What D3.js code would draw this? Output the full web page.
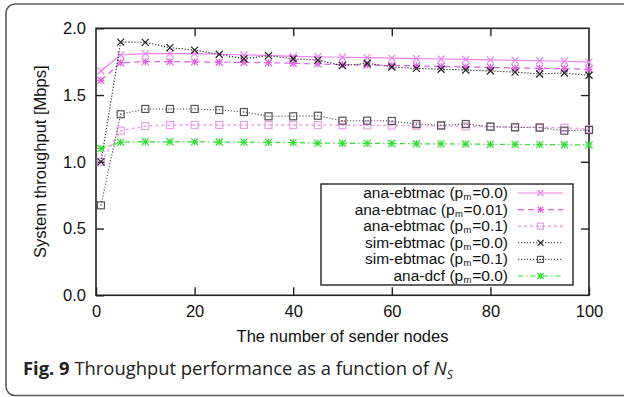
<!DOCTYPE html>
<html><head><meta charset="utf-8">
<script src="https://cdn.jsdelivr.net/npm/d3@7"></script>
<style>body{margin:0;background:#fff}svg{display:block}</style>
</head><body><svg id="c" width="624" height="397"></svg>
<script>
const xs = [1,5,10,15,20,25,30,35,40,45,50,55,60,65,70,75,80,85,90,95,100];
const anaEbt00 = [1.68,1.80,1.81,1.81,1.81,1.807,1.80,1.797,1.79,1.787,1.783,1.78,1.777,1.773,1.77,1.767,1.763,1.76,1.757,1.753,1.747];
const anaEbt001 = [1.61,1.742,1.75,1.75,1.748,1.746,1.745,1.742,1.738,1.733,1.728,1.725,1.722,1.718,1.714,1.711,1.707,1.703,1.700,1.697,1.693];
const anaEbt01 = [1.0,1.233,1.268,1.275,1.276,1.276,1.276,1.276,1.276,1.275,1.274,1.273,1.272,1.27,1.268,1.266,1.264,1.261,1.258,1.255,1.245];
const simEbt00 = [1.0,1.897,1.895,1.855,1.837,1.805,1.772,1.795,1.772,1.762,1.72,1.738,1.71,1.70,1.693,1.688,1.68,1.672,1.658,1.665,1.648];
const simEbt01 = [0.674,1.356,1.396,1.396,1.396,1.388,1.373,1.341,1.341,1.345,1.308,1.308,1.306,1.283,1.273,1.283,1.263,1.258,1.256,1.233,1.238];
const anaDcf = [1.10,1.146,1.15,1.15,1.149,1.148,1.147,1.146,1.144,1.14,1.139,1.138,1.137,1.135,1.134,1.133,1.131,1.130,1.129,1.128,1.126];
const seriesNames = ["ana-ebtmac","ana-ebtmac","ana-ebtmac","sim-ebtmac","sim-ebtmac","ana-dcf"];
const seriesPm = ["0.0","0.01","0.1","0.0","0.1","0.0"];
const xTicks = [0,20,40,60,80,100];
const yTicks = [0,0.5,1.0,1.5,2.0];

const series = [
  {vals:anaEbt00, color:"#ee82ee", dash:null, mark:"x", w:1.2},
  {vals:anaEbt001, color:"#e060e0", dash:"6,4", mark:"star", w:1.2},
  {vals:anaEbt01, color:"#e8a0e8", dash:"3,3", mark:"sq", w:1.4},
  {vals:simEbt00, color:"#222", dash:"1.2,1.8", mark:"x", w:1.1},
  {vals:simEbt01, color:"#555", dash:"1.2,1.8", mark:"sq", w:1.1},
  {vals:anaDcf, color:"#33dd33", dash:"5,3,1.5,3", mark:"star", w:1.2}
];

const svg = d3.select("#c");
const L=96, R=589, T=28.3, B=295.3;
const x = d3.scaleLinear().domain([0,100]).range([L,R]);
const y = d3.scaleLinear().domain([0,2]).range([B,T]);

// outer frame
svg.append("rect").attr("x",6).attr("y",4).attr("width",650).attr("height",391.5)
  .attr("rx",9).attr("fill","none").attr("stroke","#5a5a5a").attr("stroke-width",1.6);

const font = "'Liberation Sans', Arial, sans-serif";

// axes with inward ticks
const ax = svg.append("g").attr("font-family",font);
ax.append("g").attr("transform",`translate(0,${B})`)
  .call(d3.axisBottom(x).tickValues(xTicks).tickSize(-8).tickPadding(10).tickFormat(d3.format("d")))
  .call(g=>{g.select(".domain").remove(); g.selectAll("text").attr("font-size",16.5).attr("fill","#111");});
ax.append("g").attr("transform",`translate(0,${T})`)
  .call(d3.axisTop(x).tickValues(xTicks.slice(1,-1)).tickSize(-8).tickFormat(""))
  .call(g=>g.select(".domain").remove());
ax.append("g").attr("transform",`translate(${L},0)`)
  .call(d3.axisLeft(y).tickValues(yTicks).tickSize(-8).tickPadding(10).tickFormat(d3.format(".1f")))
  .call(g=>{g.select(".domain").remove(); g.selectAll("text").attr("font-size",16.5).attr("fill","#111");});
ax.append("g").attr("transform",`translate(${R},0)`)
  .call(d3.axisRight(y).tickValues(yTicks.slice(1,-1)).tickSize(-8).tickFormat(""))
  .call(g=>g.select(".domain").remove());
ax.selectAll(".tick line").attr("stroke","#222").attr("stroke-width",1.4);
svg.append("rect").attr("x",L).attr("y",T).attr("width",R-L).attr("height",B-T)
  .attr("fill","none").attr("stroke","#222").attr("stroke-width",1.6);

// labels
svg.append("text").attr("x",(L+R)/2).attr("y",342).attr("text-anchor","middle")
  .attr("font-family",font).attr("font-size",16.5).attr("fill","#111").text("The number of sender nodes");
svg.append("text").attr("transform",`translate(46,${(T+B)/2}) rotate(-90)`).attr("text-anchor","middle")
  .attr("font-family",font).attr("font-size",16.5).attr("fill","#111").text("System throughput [Mbps]");

function marker(g, kind, cx, cy, color, s){
  s = s || 3.5;
  if(kind==="x"||kind==="star"){
    g.append("path").attr("d",`M${cx-s},${cy-s}L${cx+s},${cy+s}M${cx-s},${cy+s}L${cx+s},${cy-s}`)
      .attr("stroke",color).attr("stroke-width",1.2).attr("fill","none");
    if(kind==="star") g.append("path").attr("d",`M${cx-s},${cy}L${cx+s},${cy}M${cx},${cy-s}L${cx},${cy+s}`)
      .attr("stroke",color).attr("stroke-width",1.2).attr("fill","none");
  } else {
    g.append("rect").attr("x",cx-s).attr("y",cy-s).attr("width",2*s).attr("height",2*s)
      .attr("stroke",color).attr("stroke-width",1.2).attr("fill","none");
    g.append("rect").attr("x",cx-0.5).attr("y",cy-0.5).attr("width",1).attr("height",1).attr("fill",color);
  }
}

const line = d3.line().x(d=>x(d[0])).y(d=>y(d[1]));
const plot = svg.append("g");
series.forEach(s=>{
  const pts = xs.map((v,i)=>[v,s.vals[i]]);
  plot.append("path").attr("d",line(pts)).attr("fill","none").attr("stroke",s.color)
    .attr("stroke-width",s.w).attr("stroke-dasharray",s.dash);
  const mg = plot.append("g");
  pts.forEach(p=>marker(mg,s.mark,x(p[0]),y(p[1]),s.color));
});

// legend
const lg = svg.append("g");
lg.append("rect").attr("x",321).attr("y",184).attr("width",252).attr("height",101)
  .attr("fill","#fff").attr("stroke","#222").attr("stroke-width",1.4);
series.forEach((s,i)=>{
  const yy = 193 + i*16.6;
  const t = lg.append("text").attr("x",508).attr("y",yy+5).attr("text-anchor","end")
    .attr("font-family",font).attr("font-size",15.5).attr("fill","#111");
  t.append("tspan").text(seriesNames[i]+" (p");
  t.append("tspan").attr("font-size",9.5).attr("dy",2).attr("dx",0.3).text("m");
  t.append("tspan").attr("dy",-2).attr("dx",0.8).text("="+seriesPm[i]+")");
  lg.append("line").attr("x1",518).attr("x2",563).attr("y1",yy).attr("y2",yy)
    .attr("stroke",s.color).attr("stroke-width",s.w).attr("stroke-dasharray",s.dash);
  marker(lg,s.mark,540.5,yy,s.color,3);
});

// caption
const cap = svg.append("text").attr("x",23).attr("y",375)
  .attr("font-family","'Open Sans', sans-serif").attr("font-size",18.4).attr("fill","#222");
cap.append("tspan").attr("font-weight","bold").text("Fig. 9");
cap.append("tspan").text(" Throughput performance as a function of ");
cap.append("tspan").attr("font-style","italic").text("N");
cap.append("tspan").attr("font-style","italic").attr("font-size",12).attr("dy",4).text("S");
</script></body></html>
